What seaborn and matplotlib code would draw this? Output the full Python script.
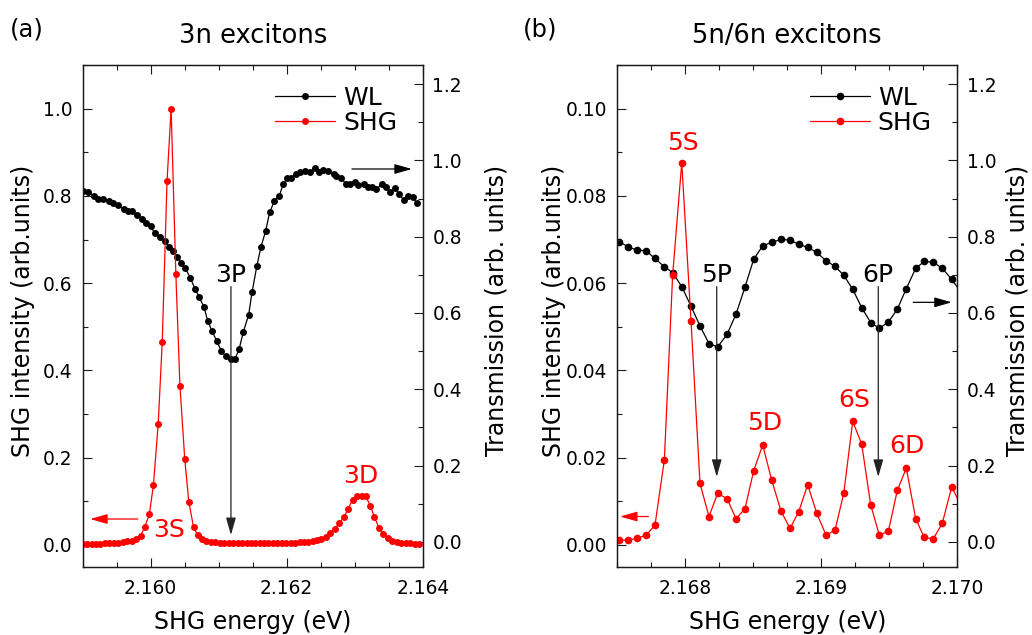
import matplotlib
matplotlib.use("Agg")
import matplotlib.pyplot as plt
from matplotlib.ticker import MultipleLocator, FormatStrFormatter
import seaborn as sns

# ---------------- panel (a): 3n excitons ----------------
energy_a_shg = [2.15900, 2.15907, 2.15913, 2.15920, 2.15926, 2.15933, 2.15939, 2.15946, 2.15952, 2.15959,
                2.15965, 2.15972, 2.15978, 2.15985, 2.15991, 2.15998, 2.16004, 2.16011, 2.16017, 2.16024,
                2.16030, 2.16037, 2.16043, 2.16050, 2.16056, 2.16063, 2.16069, 2.16076, 2.16082, 2.16089,
                2.16095, 2.16102, 2.16108, 2.16115, 2.16121, 2.16128, 2.16134, 2.16141, 2.16147, 2.16154,
                2.16160, 2.16167, 2.16173, 2.16180, 2.16186, 2.16193, 2.16199, 2.16206, 2.16212, 2.16219,
                2.16225, 2.16232, 2.16238, 2.16245, 2.16251, 2.16258, 2.16264, 2.16271, 2.16277, 2.16284,
                2.16290, 2.16297, 2.16303, 2.16310, 2.16316, 2.16323, 2.16329, 2.16336, 2.16342, 2.16349,
                2.16355, 2.16362, 2.16368, 2.16375, 2.16381, 2.16388, 2.16394]
shg_a = [0.003, 0.003, 0.003, 0.003, 0.003, 0.004, 0.004, 0.004, 0.005, 0.006,
         0.008, 0.010, 0.014, 0.021, 0.040, 0.070, 0.137, 0.276, 0.466, 0.833,
         1.000, 0.620, 0.365, 0.198, 0.099, 0.041, 0.022, 0.013, 0.009, 0.007,
         0.006, 0.005, 0.005, 0.004, 0.004, 0.004, 0.004, 0.004, 0.004, 0.004,
         0.004, 0.004, 0.004, 0.004, 0.004, 0.004, 0.005, 0.005, 0.005, 0.006,
         0.006, 0.007, 0.009, 0.011, 0.014, 0.019, 0.027, 0.036, 0.050, 0.063,
         0.082, 0.104, 0.111, 0.112, 0.112, 0.090, 0.064, 0.038, 0.024, 0.016,
         0.010, 0.007, 0.005, 0.004, 0.004, 0.003, 0.003]

energy_a_wl = [2.15901, 2.15908, 2.15916, 2.15923, 2.15930, 2.15938, 2.15945, 2.15952, 2.15960, 2.15967,
               2.15973, 2.15980, 2.15987, 2.15993, 2.16000, 2.16006, 2.16014, 2.16021, 2.16027, 2.16033,
               2.16039, 2.16045, 2.16051, 2.16058, 2.16065, 2.16071, 2.16078, 2.16084, 2.16090, 2.16097,
               2.16104, 2.16111, 2.16118, 2.16124, 2.16130, 2.16136, 2.16144, 2.16149, 2.16156, 2.16162,
               2.16169, 2.16175, 2.16182, 2.16189, 2.16195, 2.16201, 2.16207, 2.16214, 2.16220, 2.16227,
               2.16234, 2.16241, 2.16248, 2.16254, 2.16261, 2.16269, 2.16273, 2.16280, 2.16287, 2.16293,
               2.16300, 2.16305, 2.16313, 2.16319, 2.16326, 2.16332, 2.16340, 2.16346, 2.16352, 2.16359,
               2.16365, 2.16372, 2.16379, 2.16386, 2.16391]
wl_a = [0.920, 0.916, 0.907, 0.900, 0.898, 0.894, 0.888, 0.883, 0.872, 0.868,
        0.868, 0.856, 0.846, 0.837, 0.827, 0.809, 0.800, 0.789, 0.773, 0.763,
        0.747, 0.730, 0.717, 0.693, 0.664, 0.643, 0.617, 0.579, 0.553, 0.527,
        0.500, 0.486, 0.480, 0.480, 0.505, 0.549, 0.595, 0.654, 0.722, 0.772,
        0.815, 0.864, 0.894, 0.907, 0.938, 0.953, 0.955, 0.964, 0.970, 0.973,
        0.970, 0.979, 0.970, 0.975, 0.973, 0.964, 0.958, 0.955, 0.938, 0.938,
        0.944, 0.935, 0.938, 0.929, 0.929, 0.925, 0.938, 0.929, 0.918, 0.927,
        0.912, 0.897, 0.906, 0.903, 0.888]

# ---------------- panel (b): 5n/6n excitons ----------------
energy_b = [2.167515, 2.167581, 2.167643, 2.167711, 2.167777, 2.167846, 2.167907, 2.167974, 2.168042, 2.168108,
            2.168174, 2.168238, 2.168307, 2.168373, 2.168439, 2.168503, 2.168569, 2.168635, 2.168704, 2.168770,
            2.168834, 2.168900, 2.168966, 2.169035, 2.169101, 2.169165, 2.169231, 2.169297, 2.169363, 2.169426,
            2.169493, 2.169559, 2.169625, 2.169694, 2.169757, 2.169824, 2.169890, 2.169959, 2.170027]
shg_b = [0.0011, 0.0011, 0.0015, 0.0022, 0.0045, 0.0195, 0.0619, 0.0876, 0.0513, 0.0141,
         0.0065, 0.0118, 0.0106, 0.0060, 0.0083, 0.0170, 0.0229, 0.0149, 0.0077, 0.0038,
         0.0076, 0.0138, 0.0073, 0.0022, 0.0034, 0.0118, 0.0283, 0.0231, 0.0092, 0.0023,
         0.0031, 0.0125, 0.0176, 0.0060, 0.0017, 0.0014, 0.0050, 0.0133, 0.0090]
wl_b = [0.787, 0.773, 0.765, 0.763, 0.743, 0.721, 0.706, 0.669, 0.618, 0.566,
        0.520, 0.511, 0.544, 0.597, 0.668, 0.741, 0.776, 0.785, 0.793, 0.791,
        0.780, 0.772, 0.759, 0.737, 0.722, 0.699, 0.662, 0.614, 0.575, 0.560,
        0.576, 0.610, 0.664, 0.717, 0.735, 0.733, 0.717, 0.688, 0.655]

# exciton labels: (text, energy, SHG-axis height)
labels_a = [("3P", 2.16118, 0.603), ("3S", 2.160272, 0.019), ("3D", 2.163088, 0.141)]
labels_b = [("5S", 2.167985, 0.0905), ("5P", 2.168231, 0.0603), ("6P", 2.169419, 0.0603),
            ("5D", 2.168581, 0.0263), ("6S", 2.169240, 0.0317), ("6D", 2.169628, 0.0210)]

sns.set_style("ticks")
plt.rcParams["font.family"] = ["DejaVu Sans"]
plt.rcParams["axes.linewidth"] = 0.9
for key in ("text.color", "axes.labelcolor", "xtick.color", "ytick.color"):
    plt.rcParams[key] = "black"

RED = "#ff0000"
INK = "#1a1a1a"
TICK_FS = 13.4
LABEL_FS = 17
ANN_FS = 18

fig = plt.figure(figsize=(10.32, 6.35), dpi=100)


def arrow(ax, start, end, color):
    ax.annotate("", xy=end, xytext=start,
                arrowprops=dict(arrowstyle="-|>,head_length=0.7,head_width=0.2",
                                color=color, lw=0.9, mutation_scale=15,
                                shrinkA=0, shrinkB=0))


def panel(rect, e_shg, shg, e_wl, wl, xlim, ylim, xmaj, xmin, ymaj, ymin, yfmt, ms):
    ax = fig.add_axes(rect)
    ax2 = ax.twinx()
    ax.set_zorder(ax2.get_zorder() + 1)
    ax.patch.set_visible(False)

    sns.lineplot(x=e_wl, y=wl, ax=ax2, color="black", marker="o", markersize=ms,
                 markeredgewidth=0, linewidth=0.9, estimator=None, legend=False)
    wl_line = ax2.lines[-1]
    sns.lineplot(x=e_shg, y=shg, ax=ax, color=RED, marker="o", markersize=ms,
                 markeredgewidth=0, linewidth=0.9, estimator=None, legend=False)
    shg_line = ax.lines[-1]

    ax.set_xlim(*xlim)
    ax.set_ylim(*ylim)
    ax2.set_ylim(-0.065, 1.25)

    ax.xaxis.set_major_locator(MultipleLocator(xmaj))
    ax.xaxis.set_minor_locator(MultipleLocator(xmin))
    ax.xaxis.set_major_formatter(FormatStrFormatter("%.3f"))
    ax.yaxis.set_major_locator(MultipleLocator(ymaj))
    ax.yaxis.set_minor_locator(MultipleLocator(ymin))
    ax.yaxis.set_major_formatter(FormatStrFormatter(yfmt))
    ax2.yaxis.set_major_locator(MultipleLocator(0.2))
    ax2.yaxis.set_minor_locator(MultipleLocator(0.1))
    ax2.yaxis.set_major_formatter(FormatStrFormatter("%.1f"))

    ax.tick_params(axis="both", which="both", direction="in", colors=INK,
                   labelcolor="black", top=True, bottom=True, left=True,
                   right=False, labelsize=TICK_FS)
    ax.tick_params(axis="x", which="major", length=6.5, width=0.8, pad=9)
    ax.tick_params(axis="x", which="minor", length=3.5, width=0.8)
    ax.tick_params(axis="y", which="major", length=6.5, width=0.8, pad=7.5)
    ax.tick_params(axis="y", which="minor", length=3.5, width=0.8)
    ax2.tick_params(axis="y", which="both", direction="in", colors=INK,
                    labelcolor="black", left=False, right=True, labelsize=TICK_FS)
    ax2.tick_params(axis="y", which="major", length=6.5, width=0.8, pad=7)
    ax2.tick_params(axis="y", which="minor", length=3.5, width=0.8)
    for a in (ax, ax2):
        for s in a.spines.values():
            s.set_color(INK)
            s.set_linewidth(0.9)

    ax.set_xlabel("SHG energy (eV)", fontsize=LABEL_FS)
    ax.xaxis.set_label_coords(0.5, -0.110)
    ax.xaxis.label.set_va("center")
    ax.set_ylabel("SHG intensity (arb.units)", fontsize=LABEL_FS)
    ax.yaxis.label.set_va("center")
    ax2.set_ylabel("Transmission (arb. units)", fontsize=LABEL_FS, rotation=90)
    ax2.yaxis.label.set_va("center")

    ax.legend([wl_line, shg_line], ["WL", "SHG"], loc="center left",
              bbox_to_anchor=(0.566, 0.91), frameon=False, fontsize=18,
              handlelength=2.4, handletextpad=0.32, labelspacing=0.05,
              borderpad=0, borderaxespad=0)
    return ax, ax2


# panel (a)
ax_a, ax_a2 = panel([82.7 / 1032, 68.3 / 635, 340 / 1032, 501.7 / 635],
                    energy_a_shg, shg_a, energy_a_wl, wl_a,
                    (2.159, 2.164), (-0.05, 1.1), 0.002, 0.0005, 0.2, 0.1, "%.1f", 5.0)
ax_a.yaxis.set_label_coords(-0.175, 0.51)
ax_a2.yaxis.set_label_coords(1.218, 0.51)
ax_a.text(0.5, 1.0439, "3n excitons", transform=ax_a.transAxes, ha="center",
          va="baseline", fontsize=18.5)
for txt, x, y in labels_a:
    ax_a.text(x, y, txt, ha="center", va="baseline", fontsize=ANN_FS,
              color="black" if txt.endswith("P") else RED)
arrow(ax_a, (2.16118, 0.592), (2.16118, 0.0227), "#222222")
arrow(ax_a, (2.15981, 0.0593), (2.15911, 0.0593), RED)
arrow(ax_a, (2.16296, 0.8616), (2.16384, 0.8616), "black")

# panel (b)
ax_b, ax_b2 = panel([617.3 / 1032, 68.3 / 635, 340 / 1032, 501.7 / 635],
                    energy_b, shg_b, energy_b, wl_b,
                    (2.1675, 2.170), (-0.005, 0.11), 0.001, 0.00025, 0.02, 0.01, "%.2f", 5.5)
ax_b.yaxis.set_label_coords(-0.185, 0.51)
ax_b2.yaxis.set_label_coords(1.176, 0.51)
ax_b.text(0.5, 1.0439, "5n/6n excitons", transform=ax_b.transAxes, ha="center",
          va="baseline", fontsize=18.5)
for txt, x, y in labels_b:
    ax_b.text(x, y, txt, ha="center", va="baseline", fontsize=ANN_FS,
              color="black" if txt.endswith("P") else RED)
arrow(ax_b, (2.168231, 0.0592), (2.168231, 0.0156), "#222222")
arrow(ax_b, (2.169419, 0.0592), (2.169419, 0.0156), "#222222")
arrow(ax_b, (2.167728, 0.0065), (2.167520, 0.0065), RED)
arrow(ax_b, (2.169676, 0.0556), (2.169959, 0.0556), "black")

fig.text(10 / 1032, 1 - 36.8 / 635, "(a)", ha="left", va="baseline", fontsize=17.5)
fig.text(523 / 1032, 1 - 36.8 / 635, "(b)", ha="left", va="baseline", fontsize=17.5)

fig.savefig("out.png", dpi=100)
